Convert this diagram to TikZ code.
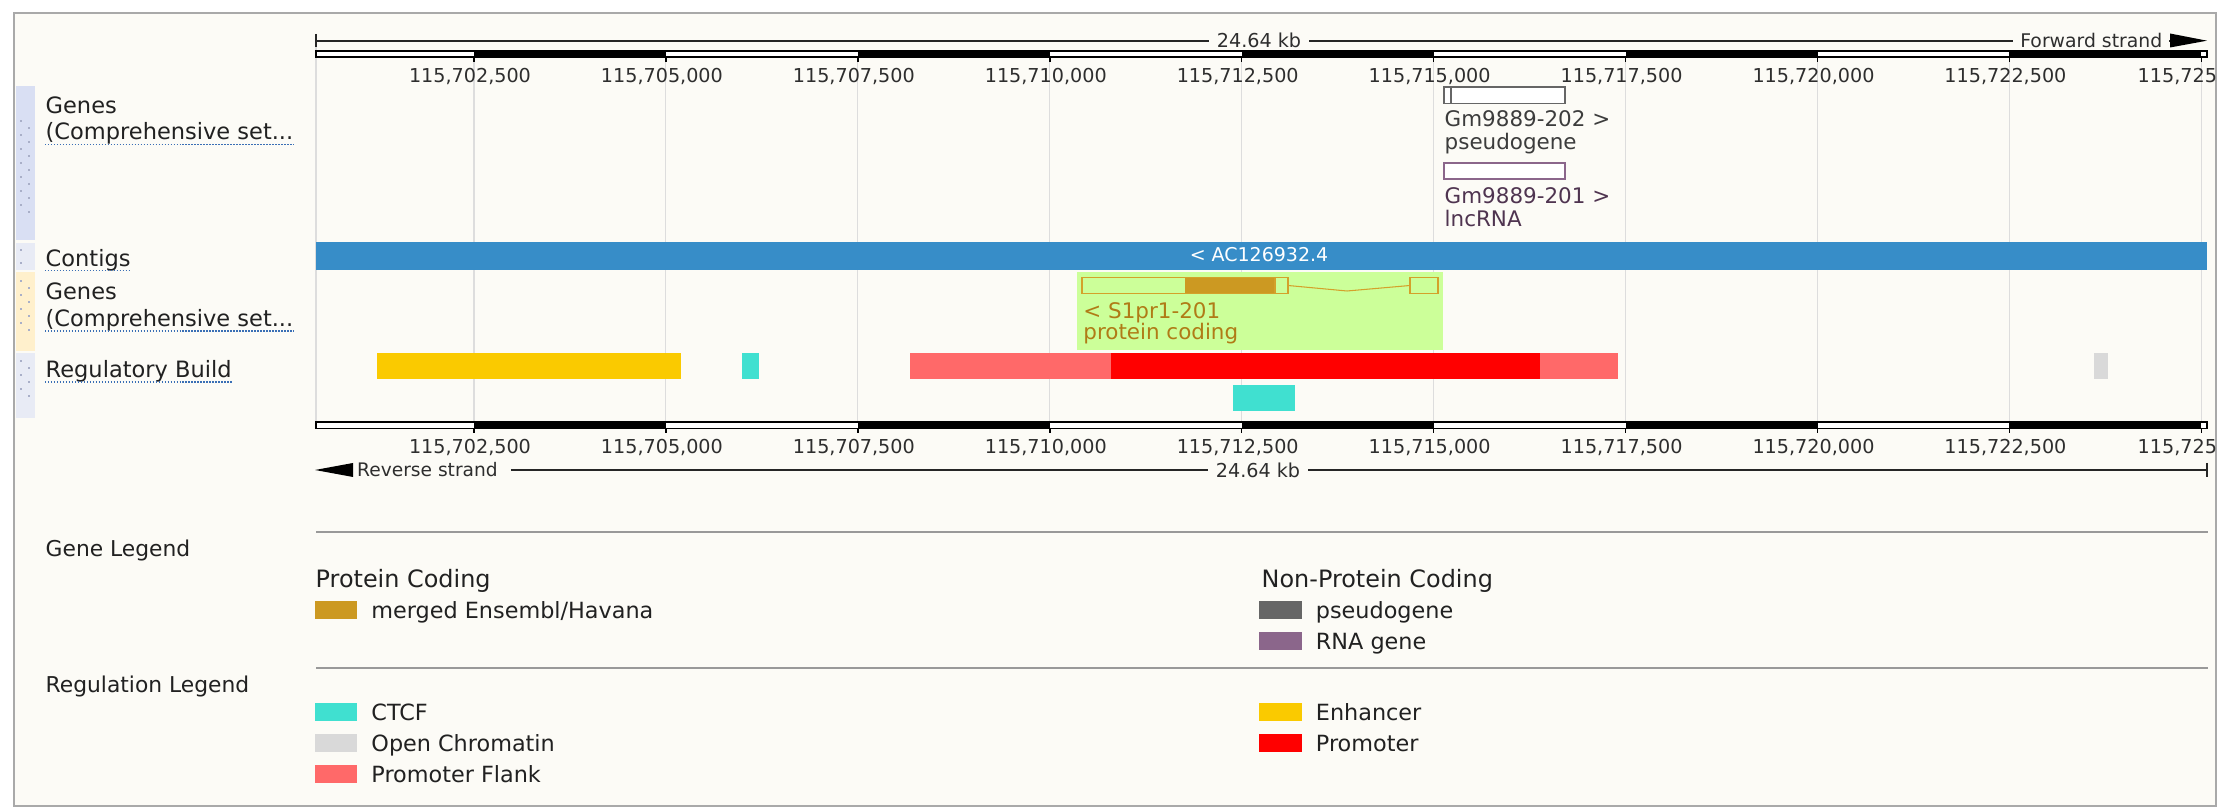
\documentclass[tikz,border=0pt]{standalone}
\usepackage{fontspec}
\setmainfont{DejaVu Sans}
\usetikzlibrary{positioning}

\definecolor{pagebg}{HTML}{FCFBF6}
\definecolor{framegray}{HTML}{A9A9A9}
\definecolor{gridgray}{HTML}{DDDDDD}
\definecolor{stripblue}{HTML}{D9DFF3}
\definecolor{stripgray}{HTML}{E8EBF5}
\definecolor{stripyellow}{HTML}{FFF0CC}
\definecolor{dotgray}{HTML}{A9AFC8}
\definecolor{ulblue}{HTML}{3A6FB5}
\definecolor{contigblue}{HTML}{378DC8}
\definecolor{pseudogray}{HTML}{666666}
\definecolor{pseudotext}{HTML}{3C3C3C}
\definecolor{rnapurple}{HTML}{8B668B}
\definecolor{rnatext}{HTML}{4F3450}
\definecolor{hilite}{HTML}{CCFF99}
\definecolor{gold}{HTML}{CC9922}
\definecolor{goldline}{HTML}{D4A12A}
\definecolor{goldtext}{HTML}{B07B16}
\definecolor{enhancer}{HTML}{FACA00}
\definecolor{promoter}{HTML}{FF0000}
\definecolor{flank}{HTML}{FF6969}
\definecolor{ctcf}{HTML}{40E0D0}
\definecolor{openchrom}{HTML}{D9D9D9}
\definecolor{sepgray}{HTML}{999999}

\begin{document}
\begin{tikzpicture}[x=0.01cm,y=-0.01cm,
  lab/.style={anchor=base west,inner sep=0,font=\fontsize{6.1}{7}\selectfont,text=black!87},
  trk/.style={lab,font=\fontsize{6.4}{7.5}\selectfont},
  small/.style={inner sep=0,font=\fontsize{5.45}{6}\selectfont,text=black!82},
  head/.style={anchor=base west,inner sep=0,font=\fontsize{6.8}{8}\selectfont,text=black!87},
  legtext/.style={anchor=west,inner sep=0,text height=4.6pt,text depth=0pt,font=\fontsize{6.35}{7}\selectfont,text=black!87},
  swatch/.style={inner sep=0,minimum width=0.42cm,minimum height=0.18cm},
  uline/.style={draw=ulblue,line width=0.35pt,dash pattern=on 0.4pt off 0.45pt},
  grid/.style={draw=gridgray,line width=0.3pt},
  rulerbar/.style={draw=black,line width=0.45pt,fill=white},
  rulerline/.style={draw=black!85,line width=0.55pt},
  sep/.style={draw=sepgray,line width=0.55pt}]

\fill[white] (0,0) rectangle (2229,807);
\useasboundingbox (0,0) rectangle (2229,807);
\filldraw[fill=pagebg,draw=framegray,line width=0.6pt] (14,13) rectangle (2216,806.5);

% track handles
\fill[stripblue] (16,86) rectangle (35,240);
\fill[stripgray] (16,243) rectangle (35,270);
\fill[stripyellow] (16,272) rectangle (35,351);
\fill[stripgray] (16,353) rectangle (35,418);
\foreach \y in {120,134,...,204} {\fill[dotgray] (19.5,\y) rectangle +(2,2); \fill[dotgray] (28,\y+7) rectangle +(2,2);}
\foreach \y in {249,262} \fill[dotgray] (19.5,\y) rectangle +(2,2);
\foreach \y in {280,294,308,322} {\fill[dotgray] (19.5,\y) rectangle +(2,2); \fill[dotgray] (28,\y+7) rectangle +(2,2);}
\foreach \y in {360,374,388} {\fill[dotgray] (19.5,\y) rectangle +(2,2); \fill[dotgray] (28,\y+7) rectangle +(2,2);}

% grid
\draw[grid] (316,47) -- (316,421);
\foreach \k in {0,...,9} \draw[grid] ({474+191.93*\k},58) -- ({474+191.93*\k},421);

% top ruler
\draw[rulerline] (316,40.7) -- (2172,40.7);
\draw[rulerline] (316,34) -- (316,47.5);
\fill[black] (2170,33.5) -- (2207,40.7) -- (2170,47.5) -- cycle;
\node[small,fill=pagebg,inner xsep=2.3pt] (kbtop) at (1259,40.7) {24.64 kb};
\node[small,fill=pagebg,inner xsep=2pt,anchor=east,font=\fontsize{5.35}{6}\selectfont] (fwd) at (2170,40.7) {Forward strand};
\filldraw[rulerbar] (316,51) rectangle (2207,57.3);
\foreach \k in {0,2,4,6,8} \fill[black] ({474+191.93*\k},51) rectangle ({474+191.93*(\k+1)},57.3);
\foreach \k in {0,...,9} \draw[line width=0.4pt] ({474+191.93*\k},57) -- ++(0,5);
\foreach \k/\t in {0/{115,702,500},1/{115,705,000},2/{115,707,500},3/{115,710,000},4/{115,712,500},5/{115,715,000},6/{115,717,500},7/{115,720,000},8/{115,722,500}}
  \node[small,anchor=base] (top\k) at ({470+191.93*\k},82.7) {\t};
\node[small,anchor=base west] (top9) at (2137,82.7) {115,725};

% track names
\node[trk] (genesA) at (45,114) {Genes};
\node[trk] (compA) at (45,140) {(Comprehensive set...};
\draw[uline] ([yshift=0.3pt]compA.south west) -- ([yshift=0.3pt]compA.south east);
\node[trk] (contigs) at (45,266.7) {Contigs};
\draw[uline] ([yshift=0.5pt]contigs.south west) -- ([yshift=0.5pt]contigs.south east);
\node[trk] (genesB) at (45,300) {Genes};
\node[trk] (compB) at (45,326.7) {(Comprehensive set...};
\draw[uline] ([yshift=0.3pt]compB.south west) -- ([yshift=0.3pt]compB.south east);
\node[trk] (regbuild) at (45,377.7) {Regulatory Build};
\draw[uline] ([yshift=0.3pt]regbuild.south west) -- ([yshift=0.3pt]regbuild.south east);

% forward strand genes
\filldraw[draw=pseudogray,fill=white,line width=0.4pt] (1444,87) rectangle (1565,103.5);
\draw[pseudogray,line width=0.4pt] (1451,87) -- (1451,103.5);
\node[lab,text=pseudotext] (gm202) at (1444,127) {Gm9889-202 >};
\node[lab,text=pseudotext] (pseudo) at (1444,149.5) {pseudogene};
\filldraw[draw=rnapurple,fill=white,line width=0.4pt] (1444,163) rectangle (1565,179);
\node[lab,text=rnatext] (gm201) at (1444,203.5) {Gm9889-201 >};
\node[lab,text=rnatext] (lnc) at (1444,226.5) {lncRNA};

% contigs
\fill[contigblue] (316,242) rectangle (2207,270);
\node[small,text=white,font=\fontsize{5.4}{6}\selectfont] (ac) at (1259,255) {< AC126932.4};

% reverse strand genes
\fill[hilite] (1077,272) rectangle (1443,350);
\fill[gold] (1185,277.5) rectangle (1275,293.5);
\draw[goldline,line width=0.45pt] (1082,277.5) rectangle (1288,293.5);
\draw[goldline,line width=0.45pt] (1275,277.5) -- (1275,293.5);
\draw[goldline,line width=0.3pt] (1288,285.5) -- (1347,291) -- (1410,285.5);
\draw[goldline,line width=0.45pt] (1410,277.5) rectangle (1438,293.5);
\node[lab,text=goldtext] (s1pr1) at (1082.7,318.3) {< S1pr1-201};
\node[lab,text=goldtext] (pcoding) at (1082.7,340) {protein coding};

% regulatory build
\fill[enhancer] (377,353) rectangle (681,379);
\fill[ctcf] (742,353) rectangle (759,379);
\fill[flank] (910,353) rectangle (1111,379);
\fill[promoter] (1111,353) rectangle (1540,379);
\fill[flank] (1540,353) rectangle (1618,379);
\fill[openchrom] (2094,353) rectangle (2108,379);
\fill[ctcf] (1233,385) rectangle (1295,411);

% bottom ruler
\filldraw[rulerbar] (316,422) rectangle (2207,428.3);
\foreach \k in {0,2,4,6,8} \fill[black] ({474+191.93*\k},422) rectangle ({474+191.93*(\k+1)},428.3);
\foreach \k in {0,...,9} \draw[line width=0.4pt] ({474+191.93*\k},428) -- ++(0,5);
\foreach \k/\t in {0/{115,702,500},1/{115,705,000},2/{115,707,500},3/{115,710,000},4/{115,712,500},5/{115,715,000},6/{115,717,500},7/{115,720,000},8/{115,722,500}}
  \node[small,anchor=base] (bot\k) at ({470+191.93*\k},453.3) {\t};
\node[small,anchor=base west] (bot9) at (2137,453.3) {115,725};
\fill[black] (315,470) -- (353,463) -- (353,477) -- cycle;
\node[small,inner xsep=1pt,anchor=west,font=\fontsize{5.3}{6}\selectfont] (rev) at (353,470) {Reverse strand};
\draw[rulerline] ([xshift=2.5pt]rev.east) -- (2207,470);
\draw[rulerline] (2207,463) -- (2207,477);
\node[small,fill=pagebg,inner xsep=2.3pt] (kbbot) at (1258,470) {24.64 kb};

% legends
\draw[sep] (316,532) -- (2208,532);
\node[lab,font=\fontsize{6.2}{7}\selectfont] (genelegend) at (45,556.7) {Gene Legend};
\node[head] (pc) at (315,587.3) {Protein Coding};
\node[head] (npc) at (1261,587.3) {Non-Protein Coding};
\node[swatch,fill=gold] (swmerged) at (336,610.5) {};
\node[legtext,right=0.13cm of swmerged] (merged) {merged Ensembl/Havana};
\node[swatch,fill=pseudogray] (swpseudo) at (1280.5,610.5) {};
\node[legtext,right=0.13cm of swpseudo] (pseudolab) {pseudogene};
\node[swatch,fill=rnapurple,below=0.115cm of swpseudo] (swrna) {};
\node[legtext,right=0.13cm of swrna] (rnalab) {RNA gene};

\draw[sep] (316,668) -- (2208,668);
\node[lab,font=\fontsize{6.2}{7}\selectfont] (reglegend) at (45,693) {Regulation Legend};
\node[swatch,fill=ctcf] (swctcf) at (336,712.5) {};
\node[legtext,right=0.13cm of swctcf] (ctcflab) {CTCF};
\node[swatch,fill=openchrom,below=0.115cm of swctcf] (swopen) {};
\node[legtext,right=0.13cm of swopen] (openlab) {Open Chromatin};
\node[swatch,fill=flank,below=0.115cm of swopen] (swflank) {};
\node[legtext,right=0.13cm of swflank] (flanklab) {Promoter Flank};
\node[swatch,fill=enhancer] (swenh) at (1280.5,712.5) {};
\node[legtext,right=0.13cm of swenh] (enhlab) {Enhancer};
\node[swatch,fill=promoter,below=0.115cm of swenh] (swprom) {};
\node[legtext,right=0.13cm of swprom] (promlab) {Promoter};

\end{tikzpicture}
\end{document}
